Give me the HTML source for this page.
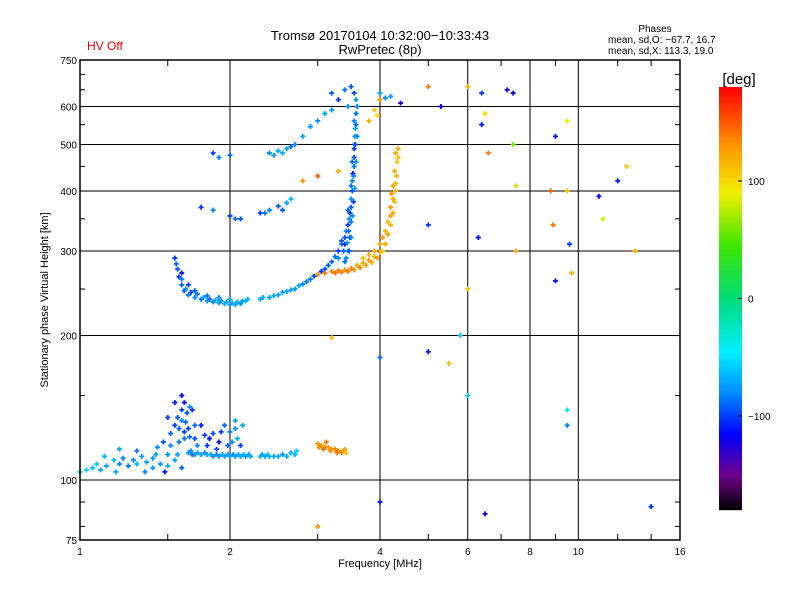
<!DOCTYPE html>
<html><head><meta charset="utf-8"><style>
body{margin:0;background:#fff}
svg{font-family:"Liberation Sans",sans-serif}
</style></head><body>
<svg id="c" width="800" height="600" xmlns="http://www.w3.org/2000/svg">
<rect width="800" height="600" fill="#fff"/>
<text x="380" y="40" font-size="13" text-anchor="middle">Tromsø 20170104 10:32:00−10:33:43</text>
<text x="380" y="54" font-size="13" text-anchor="middle">RwPretec (8p)</text>
<text x="87" y="50" font-size="12" fill="#e00">HV Off</text>
<text x="655" y="32" font-size="10" text-anchor="middle">Phases</text>
<text x="608" y="43" font-size="10">mean, sd,O: −67.7, 16.7</text>
<text x="608" y="54" font-size="10">mean, sd,X: 113.3, 19.0</text>
<text x="380" y="567" font-size="11" text-anchor="middle">Frequency [MHz]</text>
<text transform="translate(48,300) rotate(-90)" font-size="11" text-anchor="middle">Stationary phase Virtual Height [km]</text>
<g id="grid"></g><g id="marks"></g><g id="axes"></g><g id="cbar"></g>
<text x="739" y="84" font-size="15" text-anchor="middle">[deg]</text>
</svg>
<script>
const xTicks=[1,2,4,6,8,10,16];
const yTicks=[75,100,200,300,400,500,600,750];
const gridX=[2,4,6,8,10];
const gridY=[100,200,300,400,500,600];
const cbTicks=[100,0,-100];
// points: [freq MHz, height km, phase deg]
const eLayerO=[[1.65,114,-75],[1.7,113,-72],[1.75,113,-75],[1.8,113,-70],[1.85,112,-75],[1.9,112,-72],[1.95,112,-75],[2.0,112,-70],[2.05,112,-75],[2.1,112,-72],[2.15,112,-75],[2.2,112,-70],[2.3,112,-65],[2.35,112,-70],[2.4,112,-68],[2.5,112,-70],[2.6,112,-66],[2.7,113,-65],[1.68,113,-90],[1.67,115,-80],[1.72,114,-70],[1.78,114,-78],[1.83,113,-72],[1.88,113,-80],[1.93,113,-70],[1.98,113,-74],[2.03,113,-78],[2.08,113,-70],[2.13,113,-66],[2.18,113,-72],[2.32,113,-70],[2.38,113,-64],[2.45,112,-70],[2.55,113,-72],[2.65,114,-65],[2.72,115,-55]];
const eScatter=[[1.0,104,-55],[1.03,105,-55],[1.06,106,-60],[1.1,105,-70],[1.13,107,-70],[1.17,110,-60],[1.2,108,-80],[1.22,111,-80],[1.25,107,-85],[1.28,110,-80],[1.3,115,-85],[1.33,112,-75],[1.36,109,-70],[1.4,111,-75],[1.43,117,-80],[1.47,120,-95],[1.5,113,-75],[1.52,125,-90],[1.55,130,-100],[1.57,135,-95],[1.6,140,-100],[1.62,145,-110],[1.58,120,-85],[1.65,128,-100],[1.7,122,-95],[1.75,130,-110],[1.8,118,-100],[1.85,125,-95],[1.9,120,-110],[1.95,130,-90],[2.0,126,-85],[2.02,120,-80],[2.05,128,-75],[2.1,118,-100],[1.2,116,-70],[1.12,112,-65],[1.5,135,-100],[1.55,145,-110],[1.6,150,-115],[1.63,132,-90],[1.68,140,-105],[1.45,108,-75],[1.48,104,-110],[1.35,104,-80],[1.6,106,-90],[1.52,118,-80],[1.55,110,-70],[1.58,128,-90],[1.62,122,-85],[1.64,138,-95],[1.66,142,-80],[1.7,130,-90],[1.72,118,-80],[1.78,124,-100],[1.82,122,-115],[1.88,116,-95],[1.92,126,-100],[1.98,118,-90],[2.05,133,-70],[2.07,122,-65],[2.12,130,-70],[1.4,106,-70],[1.42,113,-75],[1.57,113,-75],[1.5,107,-70],[1.3,108,-65],[1.18,104,-70],[1.08,108,-60],[1.62,126,-100],[1.6,133,-80],[1.66,123,-90]];
const eLayerX=[[3.0,119,130],[3.05,118,125],[3.1,117,135],[3.15,117,130],[3.2,116,125],[3.25,116,135],[3.3,115,130],[3.35,114,140],[3.4,116,120],[3.12,120,140],[3.02,117,135],[3.08,116,140],[3.18,115,130],[3.28,114,140],[3.38,115,130],[3.42,114,110]];
const fLayerO=[[1.55,290,-100],[1.57,275,-95],[1.58,265,-100],[1.6,255,-90],[1.62,248,-95],[1.65,243,-85],[1.7,240,-80],[1.75,238,-85],[1.8,236,-75],[1.85,235,-80],[1.9,234,-75],[1.95,233,-70],[2.0,232,-75],[2.05,232,-70],[2.1,233,-75],[2.15,236,-70],[2.3,238,-70],[2.4,240,-72],[2.5,243,-70],[2.6,247,-72],[2.7,250,-75],[2.8,256,-80],[2.9,262,-85],[3.0,268,-90],[3.1,275,-95],[3.2,285,-90],[3.3,300,-100],[3.4,320,-95],[3.45,340,-100],[3.5,370,-90],[3.52,400,-95],[3.55,450,-85],[3.57,500,-80],[3.58,550,-90],[3.6,600,-80],[3.55,640,-95],[1.6,270,-110],[1.65,255,-100],[1.7,248,-90],[1.8,242,-85],[1.9,240,-80],[2.0,238,-70],[3.35,310,-85],[3.42,330,-80],[3.48,360,-100],[3.52,420,-80],[3.55,470,-95],[3.56,520,-75],[3.58,580,-85],[3.45,300,-70],[3.3,290,-80],[3.5,385,-75],[3.53,435,-110],[3.47,350,-75],[3.4,310,-110],[3.55,490,-100],[3.57,540,-70],
[1.56,282,-90],[1.6,262,-85],[1.63,250,-80],[1.67,246,-100],[1.72,244,-85],[1.77,240,-70],[1.82,238,-90],[1.87,237,-70],[1.92,236,-80],[1.97,235,-70],[2.02,234,-72],[2.07,235,-68],[2.12,236,-72],[2.17,238,-68],[2.33,240,-70],[2.45,242,-68],[2.55,246,-72],[2.65,249,-75],[2.75,254,-70],[2.85,259,-85],[2.95,266,-95],[3.05,272,-100],[3.15,280,-90],[3.25,292,-85],[3.35,315,-95],[3.38,300,-90],[3.42,290,-80],[3.44,312,-75],[3.46,330,-90],[3.5,345,-85],[3.48,320,-100],[3.52,355,-80],[3.54,380,-100],[3.45,365,-90],[3.5,410,-85],[3.56,405,-70],[3.54,430,-80],[3.58,460,-75],[3.52,460,-90],[3.56,500,-95],[3.6,520,-80],[3.55,560,-80],[3.58,620,-75],[3.4,285,-85],[3.47,300,-95],[3.5,320,-80]];
const fLayerX=[[3.0,268,130],[3.1,270,140],[3.2,272,135],[3.3,273,140],[3.4,274,130],[3.5,276,135],[3.6,280,125],[3.7,283,120],[3.8,287,130],[3.9,292,120],[4.0,298,115],[4.1,310,120],[4.15,325,125],[4.2,340,115],[4.25,360,120],[4.28,380,110],[4.3,400,115],[4.32,430,120],[4.33,460,110],[4.35,490,120],[3.7,290,110],[3.9,300,125],[4.05,320,130],[4.2,370,130],[4.25,410,125],[3.8,560,120],[3.9,590,110],[4.0,620,130],[3.95,575,100],
[3.25,270,140],[3.35,271,135],[3.45,272,140],[3.55,274,130],[3.65,277,135],[3.75,280,125],[3.85,284,120],[3.95,290,130],[4.05,300,110],[3.8,295,120],[4.0,310,125],[4.1,330,120],[4.15,345,110],[4.2,355,125],[4.25,385,120],[4.22,395,130],[4.3,415,115],[4.28,440,120],[4.35,470,110],[4.3,480,120]];
const fUpper=[[3.2,640,-90],[3.3,620,-100],[3.4,650,-85],[3.5,660,-95],[3.45,600,-75],[4.0,640,-70],[4.1,625,-80],[4.2,630,-75],[2.4,480,-80],[2.5,485,-70],[2.6,490,-75],[2.7,500,-80],[2.8,520,-70],[2.9,545,-75],[3.0,560,-80],[3.1,580,-70],[3.2,590,-75],[1.75,370,-100],[1.85,365,-80],[2.0,355,-100],[2.05,350,-90],[2.1,350,-95],[2.3,360,-100],[2.4,365,-80],[2.5,372,-90],[2.6,378,-70],[2.65,385,-65],[1.85,480,-100],[1.9,470,-80],[2.0,475,-90],[2.55,480,-70],[2.65,495,-90],[2.45,475,-75],[2.35,360,-85],[2.55,365,-95]];
const scatter=[[6.4,640,-100],[6.5,580,100],[6.6,480,140],[7.2,650,-120],[7.4,640,-120],[9.0,520,-110],[9.5,560,90],[8.8,400,150],[9.5,400,110],[8.9,340,140],[9.6,310,-100],[9.7,270,120],[9.0,260,-110],[11.0,390,-120],[11.2,350,80],[12.0,420,-110],[12.5,450,110],[13.0,300,120],[6.3,320,-110],[6.0,250,110],[5.0,340,-100],[5.0,185,-110],[5.5,175,110],[5.8,200,-60],[6.0,150,-60],[6.5,85,-120],[9.5,130,-80],[9.5,140,-40],[14.0,88,-100],[3.0,80,130],[3.2,198,110],[4.0,90,-110],[2.8,420,130],[3.0,430,150],[3.3,440,120],[5.0,660,140],[6.0,660,120],[5.3,600,-120],[4.4,610,-130],[6.4,550,-110],[7.4,500,60],[7.5,410,100],[7.5,300,120],[4.0,180,-90]];

const X0=80,X1=680,Y0=540,Y1=60;
const xs=f=>X0+(X1-X0)*Math.log2(f)/4;
const ys=h=>Y0-(Y0-Y1)*Math.log10(h/75);
const NS='http://www.w3.org/2000/svg';
function mk(t,a,p){const e=document.createElementNS(NS,t);for(const k in a)e.setAttribute(k,a[k]);p.appendChild(e);return e;}
const stops=[[-180,[0,0,0]],[-150,[110,0,140]],[-115,[0,0,255]],[-80,[0,140,255]],[-45,[0,240,255]],[0,[0,220,120]],[45,[60,230,0]],[90,[240,240,0]],[130,[255,150,0]],[180,[255,0,0]]];
function col(v){v=Math.max(-180,Math.min(180,v));for(let i=1;i<stops.length;i++){if(v<=stops[i][0]){const a=stops[i-1],b=stops[i],t=(v-a[0])/(b[0]-a[0]);return 'rgb('+a[1].map((c,j)=>Math.round(c+(b[1][j]-c)*t)).join(',')+')';}}return 'red';}
const grid=document.getElementById('grid'),axes=document.getElementById('axes'),marks=document.getElementById('marks'),cb=document.getElementById('cbar');
gridX.forEach(f=>{const l=mk('line',{x1:xs(f),x2:xs(f),y1:Y1,y2:Y0,stroke:'#000','stroke-width':1},grid);

});
gridY.forEach(h=>{const l=mk('line',{x1:X0,x2:X1,y1:ys(h),y2:ys(h),stroke:'#000','stroke-width':1},grid);

});
const groups=[['e-layer-o',eLayerO],['e-scatter',eScatter],['e-layer-x',eLayerX],['f-layer-o',fLayerO],['f-layer-x',fLayerX],['f-upper',fUpper],['scatter',scatter]];
groups.forEach(([nm,arr])=>arr.forEach(p=>{const x=xs(p[0]),y=ys(p[1]);
const m=mk('path',{d:`M${x-2.5} ${y}h5M${x} ${y-2.5}v5`,stroke:col(p[2]),'stroke-width':1.8},marks);

}));
const fr=mk('rect',{x:X0,y:Y1,width:X1-X0,height:Y0-Y1,fill:'none',stroke:'#000','stroke-width':1.5},axes);


xTicks.forEach(f=>{const t=mk('text',{x:xs(f),y:555,'font-size':10,'text-anchor':'middle'},axes);t.textContent=f;

});
[1.5,3,5,7,9,12,14].forEach(f=>{mk('line',{x1:xs(f),x2:xs(f),y1:Y0,y2:Y0-6,stroke:'#000'},axes);mk('line',{x1:xs(f),x2:xs(f),y1:Y1,y2:Y1+6,stroke:'#000'},axes);});
yTicks.forEach(h=>{const t=mk('text',{x:77,y:ys(h)+4,'font-size':10,'text-anchor':'end'},axes);t.textContent=h;


mk('line',{x1:X0,x2:X0+8,y1:ys(h),y2:ys(h),stroke:'#000'},axes);mk('line',{x1:X1,x2:X1-8,y1:ys(h),y2:ys(h),stroke:'#000'},axes);});
[80,90,150,250,350,450,550,650,700].forEach(h=>{mk('line',{x1:X0,x2:X0+5,y1:ys(h),y2:ys(h),stroke:'#000'},axes);mk('line',{x1:X1,x2:X1-5,y1:ys(h),y2:ys(h),stroke:'#000'},axes);});
const CB0=510,CB1=87,cv=v=>CB0-(CB0-CB1)*(v+180)/360;
for(let y=CB1;y<CB0;y++){mk('rect',{x:719,y:y,width:23,height:1.2,fill:col(180-(y-CB1)/(CB0-CB1)*360)},cb);}
cbTicks.forEach(v=>{const t=mk('text',{x:748,y:cv(v)+4,'font-size':10},cb);t.textContent=v<0?'−'+(-v):v;


mk('line',{x1:738,x2:742,y1:cv(v),y2:cv(v),stroke:'#000'},cb);});


</script>
</body></html>
